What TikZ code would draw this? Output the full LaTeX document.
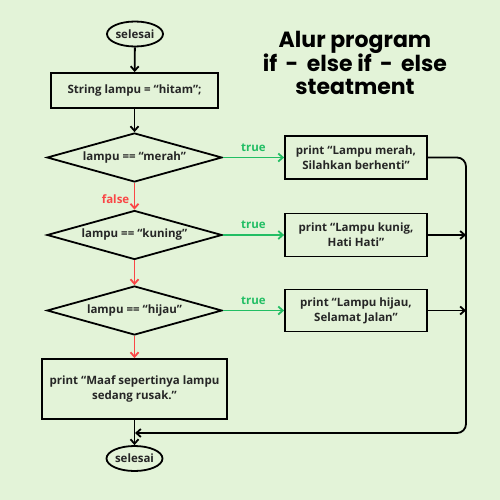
\documentclass[tikz,border=0pt]{standalone}
\usepackage{fontspec}
\setmainfont{Open Sans}
\newfontfamily\titlefont{Poppins}
\usetikzlibrary{shapes.geometric,arrows.meta}
\definecolor{bgc}{RGB}{227,243,216}
\definecolor{tgreen}{RGB}{34,190,100}
\definecolor{fred}{RGB}{250,70,70}
\tikzset{
  x=1pt,y=-1pt,
  base/.style={draw=black,line width=1.8pt,font=\bfseries\fontsize{11.5}{15}\selectfont,align=center,text=black!85},
  term/.style={base,ellipse,minimum width=56pt,minimum height=25pt,inner sep=0pt},
  proc/.style={base,rectangle,inner sep=0pt},
  cond/.style={base,diamond,minimum width=175pt,minimum height=49pt,inner sep=0pt,aspect=3.5},
  arr/.style={line width=1.8pt,-{Straight Barb[length=4.5pt,width=8pt]}},
  garr/.style={arr,draw=tgreen},
  rarr/.style={arr,draw=fred},
  glab/.style={font=\bfseries\fontsize{11.5}{14}\selectfont,text=tgreen},
  rlab/.style={font=\bfseries\fontsize{11.5}{14}\selectfont,text=fred},
  ttl/.style={font=\titlefont\bfseries\fontsize{22}{23}\selectfont,align=center},
}
\begin{document}
\begin{tikzpicture}
\fill[bgc] (0,0) rectangle (500,500);
\useasboundingbox (0,0) rectangle (500,500);
\node[ttl] (title) at (355,63) {Alur program\\if \,-\, else if \,-\, else\\steatment};
\node[term] (start) at (135,34) {selesai};
\node[proc,minimum width=167pt,minimum height=35pt] (init) at (134.5,90.5) {String lampu = “hitam”;};
\node[cond] (c1) at (134.5,157.5) {lampu == “merah”};
\node[cond] (c2) at (134.5,235) {lampu == “kuning”};
\node[cond] (c3) at (134.5,310.5) {lampu == “hijau”};
\node[proc,minimum width=142pt,minimum height=43pt] (p1) at (356,157.5) {print “Lampu merah,\\Silahkan berhenti”};
\node[proc,minimum width=142pt,minimum height=43pt] (p2) at (356,235) {print “Lampu kunig,\\Hati Hati”};
\node[proc,minimum width=142pt,minimum height=42pt] (p3) at (356,310.5) {print “Lampu hijau,\\Selamat Jalan”};
\node[proc,minimum width=185pt,minimum height=60pt] (p4) at (134.5,389) {print “Maaf sepertinya lampu\\sedang rusak.”};
\node[term] (end) at (134.5,458.5) {selesai};
\coordinate (rr) at (466,433);
\coordinate (join) at (135,433);
\draw[arr] (start) -- (init);
\draw[arr] (init) -- (c1);
\draw[garr] (c1) -- node[glab,above=2pt] {true} (p1);
\draw[garr] (c2) -- node[glab,above=2pt] {true} (p2);
\draw[garr] (c3) -- node[glab,above=2pt] {true} (p3);
\draw[rarr] (c1) -- node[rlab,left=1pt,pos=0.6] {false} (c2);
\draw[rarr] (c2) -- (c3);
\draw[rarr] (c3) -- (p4);
\draw[arr] (p4) -- (end);
\draw[arr,rounded corners=9pt] (p1.east) -| (rr) -- (join);
\draw[arr] (p2.east) -- (p2.east -| rr);
\draw[arr] (p3.east) -- (p3.east -| rr);
\end{tikzpicture}
\end{document}
